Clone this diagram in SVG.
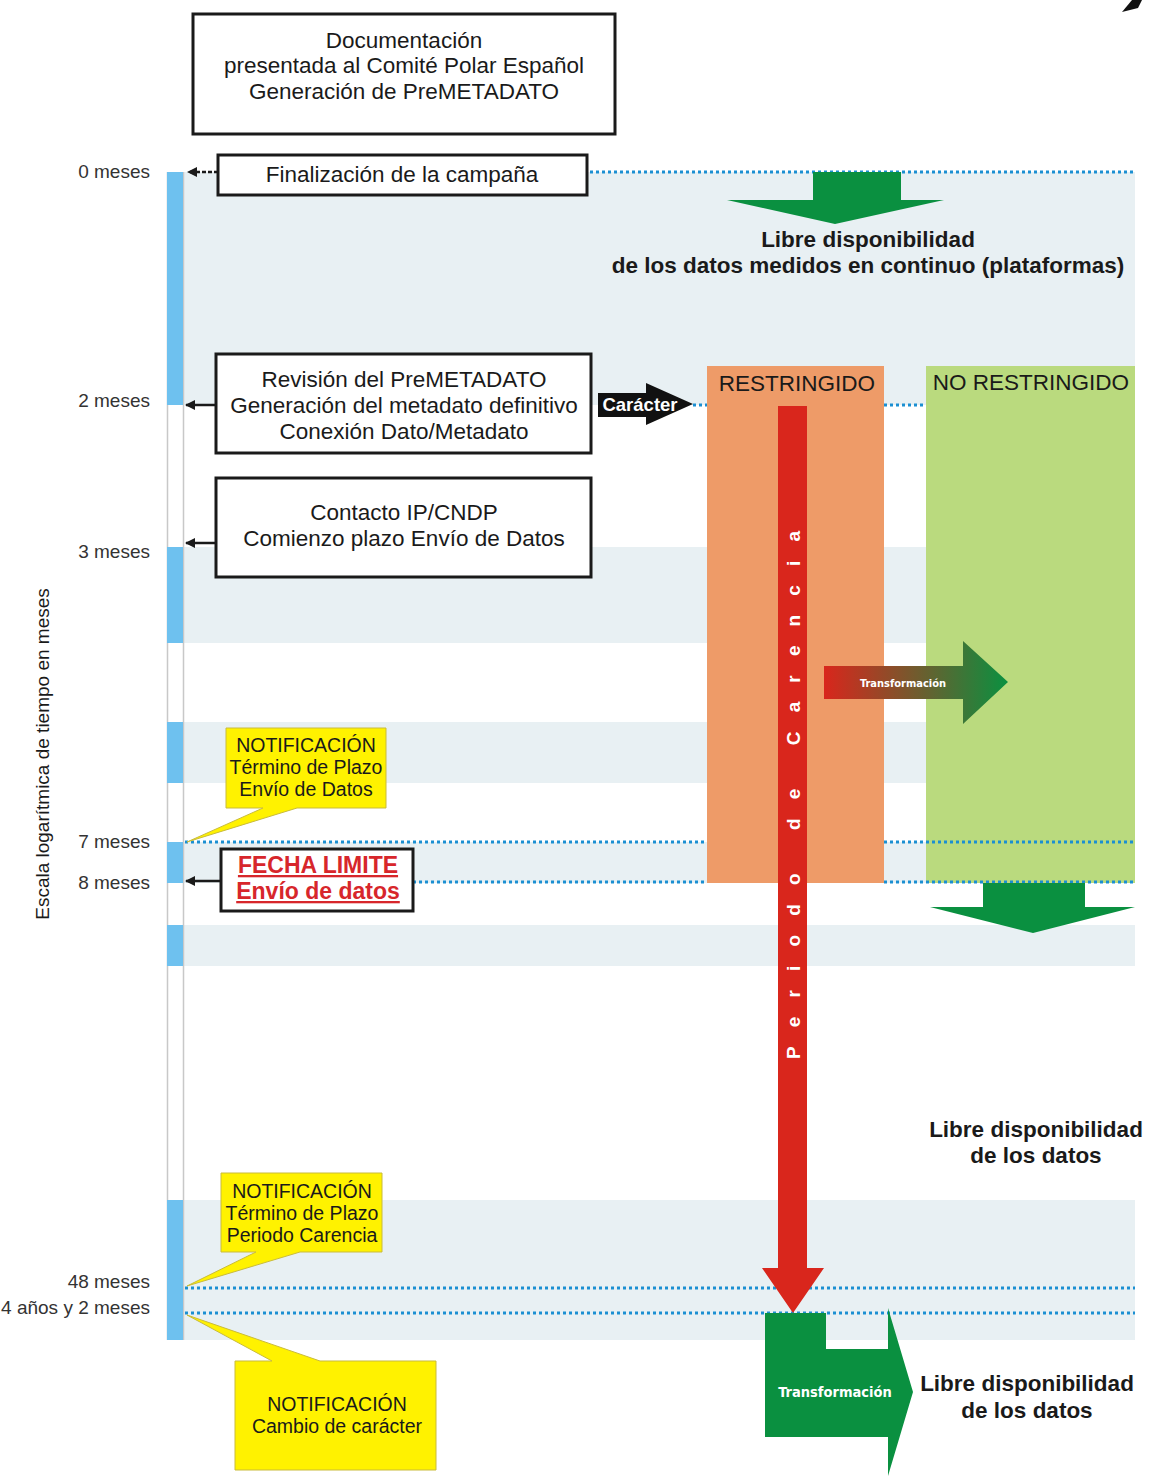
<svg xmlns="http://www.w3.org/2000/svg" width="1150" height="1477" viewBox="0 0 1150 1477">
<defs>
<style>
.t{font-family:"Liberation Sans",Arial,sans-serif;fill:#1a1a1a;text-anchor:middle}
.box{fill:#fff;stroke:#1a1a1a;stroke-width:3}
.band{fill:#e8f0f3}
.seg{fill:#6ec1ef}
.dot{stroke:#1b8fd2;stroke-width:3;stroke-dasharray:3 3;fill:none}
.note{fill:#fff200;stroke:#c9bb3a;stroke-width:1}
.lbl{font-family:"Liberation Sans",Arial,sans-serif;font-size:19px;fill:#333;text-anchor:end}
.bold{font-weight:bold}
.ar{stroke:#1a1a1a;stroke-width:2.5;fill:none;marker-end:url(#ah)}
</style>
<marker id="ah" viewBox="0 0 10 10" refX="9" refY="5" markerWidth="4" markerHeight="4" orient="auto"><path d="M0,0 L10,5 L0,10 z" fill="#1a1a1a"/></marker>
<linearGradient id="gr" x1="0" y1="0" x2="1" y2="0"><stop offset="0" stop-color="#d9261c"/><stop offset="1" stop-color="#0a9040"/></linearGradient>
</defs>
<rect width="1150" height="1477" fill="#fff"/>
<g id="bands">
<rect class="band" x="183" y="172" width="952" height="233"/>
<rect class="band" x="183" y="547" width="952" height="96"/>
<rect class="band" x="183" y="722" width="952" height="61"/>
<rect class="band" x="183" y="842" width="952" height="41"/>
<rect class="band" x="183" y="925" width="952" height="41"/>
<rect class="band" x="183" y="1200" width="952" height="140"/>
</g>
<g id="timeline">
<line x1="167.5" y1="172" x2="167.5" y2="1340" stroke="#c8c8c8" stroke-width="1.5"/>
<line x1="183.5" y1="172" x2="183.5" y2="1340" stroke="#c8c8c8" stroke-width="1.5"/>
<rect class="seg" x="167" y="172" width="16" height="233"/>
<rect class="seg" x="167" y="547" width="16" height="96"/>
<rect class="seg" x="167" y="722" width="16" height="61"/>
<rect class="seg" x="167" y="842" width="16" height="41"/>
<rect class="seg" x="167" y="925" width="16" height="41"/>
<rect class="seg" x="167" y="1200" width="16" height="140"/>
<text class="lbl" x="150" y="178">0 meses</text>
<text class="lbl" x="150" y="407">2 meses</text>
<text class="lbl" x="150" y="558">3 meses</text>
<text class="lbl" x="150" y="848">7 meses</text>
<text class="lbl" x="150" y="889">8 meses</text>
<text class="lbl" x="150" y="1288">48 meses</text>
<text class="lbl" x="150" y="1314">4 años y 2 meses</text>
<text class="t" x="0" y="0" font-size="19" fill="#333" transform="translate(49,754) rotate(-90)">Escala logarítmica de tiempo en meses</text>
</g>
<g id="status">
<rect x="707" y="366" width="177" height="517" fill="#ee9b68"/>
<rect x="926" y="366" width="209" height="517" fill="#bada7e"/>
<text class="t" x="797" y="391" font-size="22.5">RESTRINGIDO</text>
<text class="t" x="1031" y="390" font-size="22.5">NO RESTRINGIDO</text>
</g>
<g id="connectors">
<line class="dot" x1="590" y1="172" x2="1135" y2="172"/>
<line x1="218" y1="172" x2="188" y2="172" stroke="#1a1a1a" stroke-width="2.5" stroke-dasharray="4 2" marker-end="url(#ah)"/>
<line class="ar" x1="215" y1="405" x2="186" y2="405"/>
<line class="ar" x1="215" y1="543" x2="186" y2="543"/>
<line class="ar" x1="220" y1="881" x2="186" y2="881"/>
<line class="dot" x1="693" y1="405" x2="707" y2="405"/>
<line class="dot" x1="884" y1="405" x2="926" y2="405"/>
<line class="dot" x1="185" y1="842" x2="707" y2="842"/>
<line class="dot" x1="884" y1="842" x2="1135" y2="842"/>
<line class="dot" x1="413" y1="882" x2="707" y2="882"/>
<line class="dot" x1="884" y1="882" x2="1135" y2="882"/>
<line class="dot" x1="185" y1="1288" x2="1135" y2="1288"/>
<line class="dot" x1="185" y1="1313" x2="1135" y2="1313"/>
</g>
<g id="n-doc">
<rect class="box" x="193" y="14" width="422" height="120"/>
<text class="t" x="404" y="48" font-size="22.5">Documentación</text>
<text class="t" x="404" y="73" font-size="22.5">presentada al Comité Polar Español</text>
<text class="t" x="404" y="99" font-size="22.5">Generación de PreMETADATO</text>
</g>
<g id="n-fin">
<rect class="box" x="218" y="155" width="369" height="40"/>
<text class="t" x="402" y="182" font-size="22.5">Finalización de la campaña</text>
</g>
<g id="n-green1">
<polygon points="813,172 901,172 901,200 944,200 835,224 727,200 813,200" fill="#0a9040"/>
<text class="t bold" x="868" y="247" font-size="22.5">Libre disponibilidad</text>
<text class="t bold" x="868" y="273" font-size="22.5">de los datos medidos en continuo (plataformas)</text>
</g>
<g id="n-rev">
<rect class="box" x="216" y="354" width="375" height="99"/>
<text class="t" x="404" y="387" font-size="22.5">Revisión del PreMETADATO</text>
<text class="t" x="404" y="413" font-size="22.5">Generación del metadato definitivo</text>
<text class="t" x="404" y="439" font-size="22.5">Conexión Dato/Metadato</text>
</g>
<g id="n-caracter">
<polygon points="598,393 646,393 646,383 693,404 646,425 646,417 598,417" fill="#111"/>
<text x="640" y="411" font-family="Liberation Sans,Arial,sans-serif" font-size="18.5" font-weight="bold" fill="#fff" text-anchor="middle">Carácter</text>
</g>
<g id="n-contacto">
<rect class="box" x="216" y="478" width="375" height="99"/>
<text class="t" x="404" y="520" font-size="22.5">Contacto IP/CNDP</text>
<text class="t" x="404" y="546" font-size="22.5">Comienzo plazo Envío de Datos</text>
</g>
<g id="n-periodo">
<polygon points="778,406 807,406 807,1268 824,1268 793,1313 762,1268 778,1268" fill="#d9261c"/>
<text x="0" y="0" transform="translate(800,795) rotate(-90)" font-family="Liberation Sans,Arial,sans-serif" font-size="19" font-weight="bold" fill="#fff" text-anchor="middle" textLength="528" lengthAdjust="spacing">Periodo de Carencia</text>
</g>
<g id="n-transf1">
<polygon points="824,666 963,666 963,641 1008,682 963,724 963,699 824,699" fill="url(#gr)"/>
<text x="903" y="687" font-family="DejaVu Sans Condensed,DejaVu Sans,sans-serif" font-size="11" font-weight="bold" fill="#fff" text-anchor="middle" font-stretch="condensed">Transformación</text>
</g>
<g id="n-notif1">
<polygon class="note" points="226,728 386,728 386,808 297,808 187,842 263,808 226,808"/>
<text class="t" x="306" y="752" font-size="19.5">NOTIFICACIÓN</text>
<text class="t" x="306" y="774" font-size="19.5">Término de Plazo</text>
<text class="t" x="306" y="796" font-size="19.5">Envío de Datos</text>
</g>
<g id="n-fecha">
<rect class="box" x="221" y="849" width="192" height="62"/>
<text x="318" y="873" font-family="Liberation Sans,Arial,sans-serif" font-size="23" font-weight="bold" fill="#d7262b" text-anchor="middle" text-decoration="underline">FECHA LIMITE</text>
<text x="318" y="899" font-family="Liberation Sans,Arial,sans-serif" font-size="23" font-weight="bold" fill="#d7262b" text-anchor="middle" text-decoration="underline">Envío de datos</text>
</g>
<g id="n-green2">
<polygon points="983,883 1085,883 1085,907 1135,907 1033,933 930,907 983,907" fill="#0a9040"/>
</g>
<g id="n-libre2">
<text class="t bold" x="1036" y="1137" font-size="22.5">Libre disponibilidad</text>
<text class="t bold" x="1036" y="1163" font-size="22.5">de los datos</text>
</g>
<g id="n-notif2">
<polygon class="note" points="221,1173 382,1173 382,1252 300,1252 187,1286 256,1252 221,1252"/>
<text class="t" x="302" y="1198" font-size="19.5">NOTIFICACIÓN</text>
<text class="t" x="302" y="1220" font-size="19.5">Término de Plazo</text>
<text class="t" x="302" y="1242" font-size="19.5">Periodo Carencia</text>
</g>
<g id="n-notif3">
<polygon class="note" points="235,1361 272,1361 187,1315 320,1361 436,1361 436,1470 235,1470"/>
<text class="t" x="337" y="1411" font-size="19.5">NOTIFICACIÓN</text>
<text class="t" x="337" y="1433" font-size="19.5">Cambio de carácter</text>
</g>
<g id="n-transf2">
<polygon points="765,1313 826,1313 826,1349 888,1349 888,1308 913,1392 888,1476 888,1437 765,1437" fill="#0a9040"/>
<text x="835" y="1397" font-family="DejaVu Sans Condensed,DejaVu Sans,sans-serif" font-size="14.5" font-weight="bold" fill="#fff" text-anchor="middle" font-stretch="condensed">Transformación</text>
<text class="t bold" x="1027" y="1391" font-size="22.5">Libre disponibilidad</text>
<text class="t bold" x="1027" y="1418" font-size="22.5">de los datos</text>
</g>
<polygon points="1132,0 1142,0 1138,8 1122,12" fill="#111"/>
</svg>
